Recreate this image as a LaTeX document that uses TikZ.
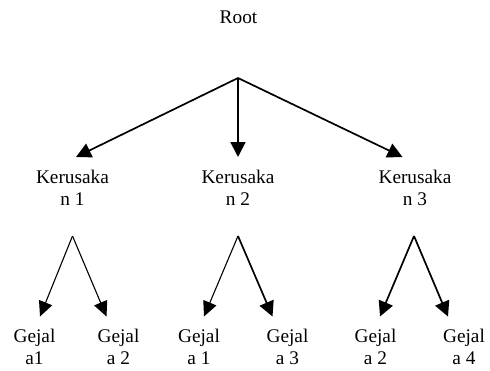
\documentclass[tikz,border=0pt]{standalone}
\usepackage{fontspec}
\setmainfont{Liberation Serif}
\usepackage{tikz}
\usetikzlibrary{arrows.meta}

\begin{document}
\begin{tikzpicture}[x=1pt,y=-1pt,
    lbl/.style={font=\fontsize{19.3}{22}\selectfont,align=center,inner sep=0pt,anchor=base},
    arr/.style={line width=1.7pt,-{Triangle[length=15pt,width=15pt]}},
    arrthin/.style={line width=1.1pt,-{Triangle[length=15pt,width=14pt]}}]
               \useasboundingbox (0,0) rectangle (490,370);
               \node[lbl] (root) at (238.5,23) {Root};
               \node[lbl] (k1) at (72.5,205.3) {Kerusaka\\n 1};
               \node[lbl] (k2) at (238,205.3) {Kerusaka\\n 2};
               \node[lbl] (k3) at (415,205.3) {Kerusaka\\n 3};
               \node[lbl] (g1) at (34.5,364.7) {Gejal\\a1};
               \node[lbl] (g2) at (118.5,364.7) {Gejal\\a 2};
               \node[lbl] (g3) at (199,364.7) {Gejal\\a 1};
               \node[lbl] (g4) at (287.5,364.7) {Gejal\\a 3};
               \node[lbl] (g5) at (375.5,364.7) {Gejal\\a 2};
               \node[lbl] (g6) at (464,364.7) {Gejal\\a 4};
               \coordinate (rootpt) at (238,78);
               \coordinate (k1pt) at (72.5,236);
               \coordinate (k2pt) at (238,236);
               \coordinate (k3pt) at (414,236);
               \coordinate (k1tip) at (76,157);
               \coordinate (k2tip) at (238,157);
               \coordinate (k3tip) at (402.5,157);
               \coordinate (g1tip) at (40,316.5);
               \coordinate (g2tip) at (106.5,316.5);
               \coordinate (g3tip) at (204,316.5);
               \coordinate (g4tip) at (272.5,316.5);
               \coordinate (g5tip) at (380,316.5);
               \coordinate (g6tip) at (448,316.5);
               \draw[arr] (rootpt) -- (k1tip);
               \draw[arr] (rootpt) -- (k2tip);
               \draw[arr] (rootpt) -- (k3tip);
               \draw[arrthin] (k1pt) -- (g1tip);
               \draw[arrthin] (k1pt) -- (g2tip);
               \draw[arrthin] (k2pt) -- (g3tip);
               \draw[arr] (k2pt) -- (g4tip);
               \draw[arr] (k3pt) -- (g5tip);
               \draw[arr] (k3pt) -- (g6tip);
\end{tikzpicture}
\end{document}
